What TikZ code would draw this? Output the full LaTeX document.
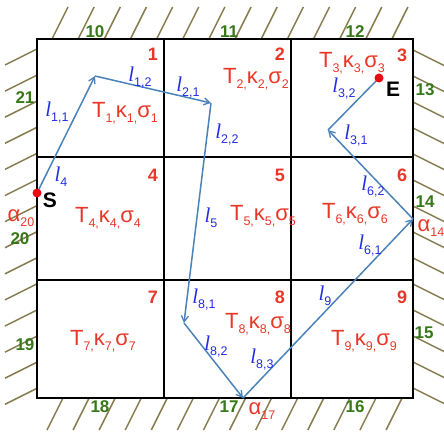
\documentclass[tikz,border=0pt]{standalone}
\usepackage{fontspec}
\setmainfont{Liberation Sans}
\newfontfamily\lfont{Liberation Serif}
\usetikzlibrary{arrows.meta}
\definecolor{hatchc}{RGB}{135,125,80}
\definecolor{redt}{RGB}{232,55,40}
\definecolor{bluet}{RGB}{35,45,225}
\definecolor{greent}{RGB}{55,120,25}
\definecolor{arrc}{RGB}{75,130,185}
\definecolor{dotc}{RGB}{235,10,20}
\newcommand{\sbx}[1]{\raisebox{-0.45ex}{\fontsize{12.5}{12.5}\selectfont #1}}
\newcommand{\Tks}[1]{T\sbx{#1,}κ\sbx{#1,}σ\sbx{#1}}
\newcommand{\lbl}[1]{{\lfont\itshape l}\sbx{#1}}
\newcommand{\alp}[1]{α\sbx{#1}}
\tikzset{
  gridline/.style={line width=2pt,black},
  hatch/.style={line width=1.5pt,hatchc},
  arr/.style={line width=1.5pt,arrc,-{Straight Barb[length=6pt,width=7pt,line width=1.3pt]}},
  seg/.style={line width=1.5pt,arrc},
  cellno/.style={text=redt,font=\bfseries\fontsize{18}{18}\selectfont,inner sep=0pt},
  tks/.style={text=redt,font=\fontsize{22}{22}\selectfont,inner sep=0pt},
  bno/.style={text=greent,font=\bfseries\fontsize{17}{17}\selectfont,inner sep=0pt},
  llab/.style={text=bluet,font=\fontsize{21}{21}\selectfont,inner sep=0pt},
  alab/.style={text=redt,font=\fontsize{22}{22}\selectfont,inner sep=0pt},
  selab/.style={text=black,font=\bfseries\fontsize{21}{21}\selectfont,inner sep=0pt},
  dot/.style={circle,fill=dotc,minimum size=9pt,inner sep=0pt}
}
\begin{document}
\begin{tikzpicture}[x=1pt,y=-1pt]
\useasboundingbox (0,0) rectangle (444,433);
% hatching
\foreach \i in {0,...,13}{
  \draw[hatch] ({52+26.15*\i},39) -- ({68+26.15*\i},7);
  \draw[hatch] (413,{50+26*\i}) -- (445,{66+26*\i});
  \draw[hatch] (37,{49+26.1*\i}) -- (5,{65+26.1*\i});
  \draw[hatch] ({63+26.08*\i},398) -- ({47+26.08*\i},430);
}
% grid
\draw[gridline] (37,39) rectangle (413,398);
\draw[gridline] (164,39) -- (164,398);
\draw[gridline] (291,39) -- (291,398);
\draw[gridline] (37,157) -- (413,157);
\draw[gridline] (37,280) -- (413,280);
% cell numbers
\node[cellno] (c1) at (153,54) {1};
\node[cellno] (c2) at (280,54) {2};
\node[cellno] (c3) at (402,55) {3};
\node[cellno] (c4) at (153,175) {4};
\node[cellno] (c5) at (280,175) {5};
\node[cellno] (c6) at (402,175) {6};
\node[cellno] (c7) at (153,297) {7};
\node[cellno] (c8) at (280,297) {8};
\node[cellno] (c9) at (402,297) {9};
% cell properties
\node[tks] (t1) at (125,113) {\Tks{1}};
\node[tks] (t2) at (256,79) {\Tks{2}};
\node[tks] (t3) at (352,63) {\Tks{3}};
\node[tks] (t4) at (108,218) {\Tks{4}};
\node[tks] (t5) at (263,216) {\Tks{5}};
\node[tks] (t6) at (355,214) {\Tks{6}};
\node[tks] (t7) at (103,341) {\Tks{7}};
\node[tks] (t8) at (258,324) {\Tks{8}};
\node[tks] (t9) at (364,341) {\Tks{9}};
% boundary numbers
\node[bno] (b10) at (95,32) {10};
\node[bno] (b11) at (229,32) {11};
\node[bno] (b12) at (355,32) {12};
\node[bno] (b13) at (425,90) {13};
\node[bno] (b14) at (425,202) {14};
\node[bno] (b15) at (424,333) {15};
\node[bno] (b16) at (355,407) {16};
\node[bno] (b17) at (229,407) {17};
\node[bno] (b18) at (100,407) {18};
\node[bno] (b19) at (25,345) {19};
\node[bno] (b20) at (20,239) {20};
\node[bno] (b21) at (25,98) {21};
% alphas
\node[alab] (a20) at (21,218) {\alp{20}};
\node[alab] (a14) at (431,228) {\alp{14}};
\node[alab] (a17) at (262,411) {\alp{17}};
% path points
\coordinate (S) at (37,193);
\coordinate (P1) at (95,76);
\coordinate (P2) at (211,103);
\coordinate (P3) at (184,323);
\coordinate (P4) at (243,398);
\coordinate (P5) at (413,219);
\coordinate (P6) at (328,130);
\coordinate (E) at (379,78);
\draw[arr] (S) -- (P1);
\draw[arr] (P1) -- (P2);
\draw[arr] (P2) -- (P3);
\draw[arr] (P3) -- (P4);
\draw[arr] (P4) -- (P5);
\draw[arr] (P5) -- (P6);
\draw[seg] (P6) -- (E);
\node[dot] (sdot) at (S) {};
\node[dot] (edot) at (E) {};
\node[selab] (slab) at (50,200) {S};
\node[selab] (elab) at (393,89) {E};
% ray segment labels
\node[llab] (l11) at (57,113) {\lbl{1,1}};
\node[llab] (l12) at (140,78) {\lbl{1,2}};
\node[llab] (l21) at (188,88) {\lbl{2,1}};
\node[llab] (l22) at (227,135) {\lbl{2,2}};
\node[llab] (l4) at (61,177) {\lbl{4}};
\node[llab] (l5) at (211,218) {\lbl{5}};
\node[llab] (l81) at (204,300) {\lbl{8,1}};
\node[llab] (l82) at (216,347) {\lbl{8,2}};
\node[llab] (l83) at (262,360) {\lbl{8,3}};
\node[llab] (l9) at (325,296) {\lbl{9}};
\node[llab] (l61) at (370,246) {\lbl{6,1}};
\node[llab] (l62) at (373,187) {\lbl{6,2}};
\node[llab] (l31) at (356,136) {\lbl{3,1}};
\node[llab] (l32) at (344,89) {\lbl{3,2}};
\end{tikzpicture}
\end{document}
